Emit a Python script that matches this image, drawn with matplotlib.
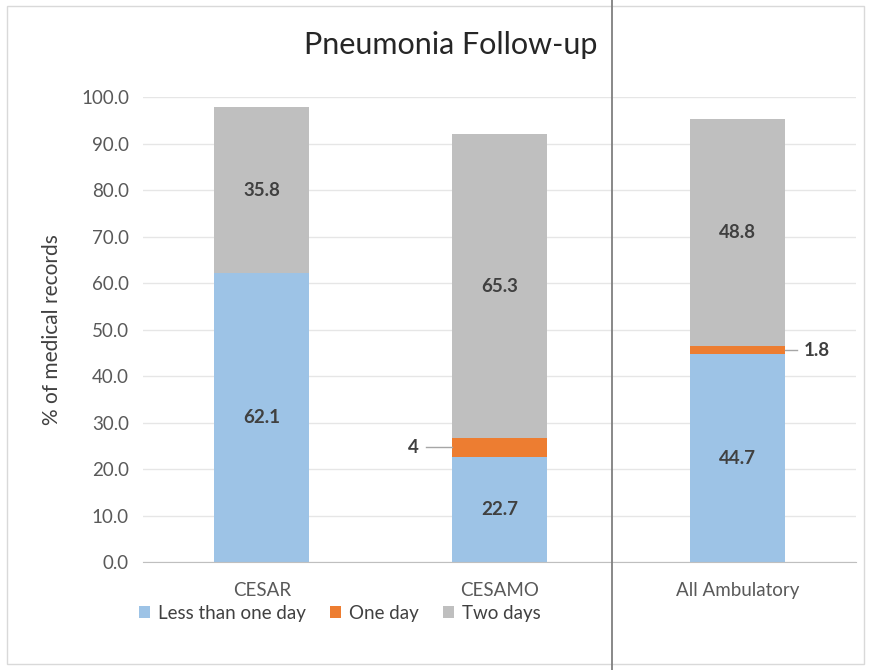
import numpy as np
import matplotlib.pyplot as plt
from matplotlib.patches import Rectangle
from matplotlib.lines import Line2D

plt.rcParams['font.family'] = ['Lato', 'DejaVu Sans']

categories = ["CESAR", "CESAMO", "All Ambulatory"]
less_than_one = [62.1, 22.7, 44.7]
one_day = [0.0, 4.0, 1.8]
two_days = [35.8, 65.3, 48.8]
yticks = np.arange(0, 101, 10)

blue = "#9DC3E6"
orange = "#ED7D31"
gray = "#BFBFBF"
txt = "#404040"

fig = plt.figure(figsize=(8.71, 6.70), dpi=100)
ax = fig.add_axes([0.164, 0.161, 0.819, 0.694])

x = np.arange(len(categories))
w = 0.4
b1 = ax.bar(x, less_than_one, w, color=blue, label="Less than one day", zorder=2)
b2 = ax.bar(x, one_day, w, bottom=less_than_one, color=orange, label="One day", zorder=2)
bottom2 = np.array(less_than_one) + np.array(one_day)
b3 = ax.bar(x, two_days, w, bottom=bottom2, color=gray, label="Two days", zorder=2)

ax.set_xlim(-0.5, 2.5)
ax.set_ylim(0, 100)
ax.set_yticks(yticks)
ax.set_yticklabels([f"{v:.1f}" for v in yticks])
ax.set_xticks(x)
ax.set_xticklabels(categories)
ax.yaxis.grid(True, color="#E6E6E6", linewidth=1, zorder=0)
for s in ["top", "right", "left"]:
    ax.spines[s].set_visible(False)
ax.spines["bottom"].set_color("#BFBFBF")
ax.tick_params(axis="both", length=0, colors="#595959", labelsize=13.5)
ax.tick_params(axis="x", pad=14)
ax.tick_params(axis="y", pad=10)
ax.set_ylabel("% of medical records", fontsize=15, color=txt, labelpad=14)

# segment labels inside bars
for i in range(len(categories)):
    ax.text(x[i], less_than_one[i] / 2, f"{less_than_one[i]:.1f}", ha="center", va="center",
            fontsize=13.5, fontweight="bold", color=txt, zorder=3)
    ax.text(x[i], bottom2[i] + two_days[i] / 2, f"{two_days[i]:.1f}", ha="center", va="center",
            fontsize=13.5, fontweight="bold", color=txt, zorder=3)

# callout labels for the thin orange segments
y1 = less_than_one[1] + one_day[1] / 2
ax.plot([x[1] - w / 2 - 0.11, x[1] - w / 2], [y1, y1], color="#A6A6A6", lw=1, zorder=3)
ax.text(x[1] - w / 2 - 0.14, y1, f"{one_day[1]:.0f}", ha="right", va="center",
        fontsize=13.5, fontweight="bold", color=txt)
y2 = less_than_one[2] + one_day[2] / 2
ax.plot([x[2] + w / 2, x[2] + w / 2 + 0.05], [y2, y2], color="#A6A6A6", lw=1, zorder=3)
ax.text(x[2] + w / 2 + 0.08, y2, f"{one_day[2]:.1f}", ha="left", va="center",
        fontsize=13.5, fontweight="bold", color=txt)

fig.text(0.517, 0.933, "Pneumonia Follow-up", ha="center", va="center", fontsize=22, color="#262626")

leg = fig.legend(handles=[b1, b2, b3], loc="center", bbox_to_anchor=(0.39, 0.085), ncol=3,
                 frameon=False, fontsize=13.5, handlelength=0.6, handleheight=0.6,
                 handletextpad=0.4, columnspacing=1.3)
for t in leg.get_texts():
    t.set_color(txt)

# outer border and vertical separator
fig.patches.append(Rectangle((7 / 871, 6 / 670), 857 / 871, 658 / 670, transform=fig.transFigure,
                             fill=False, edgecolor="#D9D9D9", lw=1))
fig.lines.append(Line2D([612 / 871, 612 / 871], [0.0, 1.0], transform=fig.transFigure,
                        color="#7F7F7F", lw=1.3))

fig.savefig("out.png", dpi=100)
